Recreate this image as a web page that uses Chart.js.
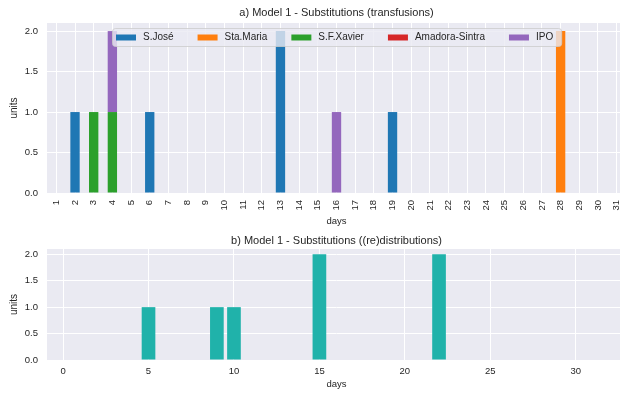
<!DOCTYPE html>
<html>
<head>
<meta charset="utf-8">
<script src="https://cdn.jsdelivr.net/npm/chart.js@4.4.0/dist/chart.umd.min.js"></script>
<style>
  html, body { margin: 0; padding: 0; background: #fff; overflow: hidden; width: 620px; height: 394px; }
  canvas { display: block; }
</style>
</head>
<body>
<canvas id="transfusions" width="626" height="228"></canvas>
<canvas id="redistributions" width="626" height="166"></canvas>
<script>
// days of the month
const days = [1, 2, 3, 4, 5, 6, 7, 8, 9, 10, 11, 12, 13, 14, 15, 16,
              17, 18, 19, 20, 21, 22, 23, 24, 25, 26, 27, 28, 29, 30, 31];

// a) substitutions (transfusions), one array per hospital
const sJose    = [0, 1, 0, 0, 0, 1, 0, 0, 0, 0, 0, 0, 2, 0, 0, 0, 0, 0, 1, 0, 0, 0, 0, 0, 0, 0, 0, 0, 0, 0, 0];
const staMaria = [0, 0, 0, 0, 0, 0, 0, 0, 0, 0, 0, 0, 0, 0, 0, 0, 0, 0, 0, 0, 0, 0, 0, 0, 0, 0, 0, 2, 0, 0, 0];
const sfXavier = [0, 0, 1, 1, 0, 0, 0, 0, 0, 0, 0, 0, 0, 0, 0, 0, 0, 0, 0, 0, 0, 0, 0, 0, 0, 0, 0, 0, 0, 0, 0];
const amadora  = [0, 0, 0, 0, 0, 0, 0, 0, 0, 0, 0, 0, 0, 0, 0, 0, 0, 0, 0, 0, 0, 0, 0, 0, 0, 0, 0, 0, 0, 0, 0];
const ipo      = [0, 0, 0, 1, 0, 0, 0, 0, 0, 0, 0, 0, 0, 0, 0, 1, 0, 0, 0, 0, 0, 0, 0, 0, 0, 0, 0, 0, 0, 0, 0];

// b) substitutions ((re)distributions)
const redistUnits = [0, 0, 0, 0, 1, 0, 0, 0, 1, 1, 0, 0, 0, 0, 2, 0, 0, 0, 0, 0, 0, 2, 0, 0, 0, 0, 0, 0, 0, 0, 0];

const unitTicks = [0, 0.5, 1, 1.5, 2];
const dayTicks = [0, 5, 10, 15, 20, 25, 30];

Chart.defaults.font.family = '"Liberation Sans", Arial, sans-serif';
Chart.defaults.font.size = 9.5;
Chart.defaults.color = '#262626';

const plotBackground = {
  id: 'plotBackground',
  beforeDraw(chart) {
    const { ctx, chartArea: a } = chart;
    ctx.save();
    ctx.fillStyle = '#eaeaf2';
    ctx.fillRect(a.left, a.top, a.right - a.left, a.bottom - a.top);
    ctx.restore();
  }
};

// title centred over the plot area (matplotlib style), not over the canvas
const axesTitle = {
  id: 'axesTitle',
  afterDraw(chart, args, opts) {
    const { ctx, chartArea: a } = chart;
    ctx.save();
    ctx.font = '11px "Liberation Sans", Arial, sans-serif';
    ctx.fillStyle = '#262626';
    ctx.textAlign = 'center';
    ctx.textBaseline = 'middle';
    ctx.fillText(opts.text, (a.left + a.right) / 2, opts.y);
    ctx.restore();
  }
};

// legend drawn inside the plot, over the bars, like matplotlib's 'upper center'
const insideLegend = {
  id: 'insideLegend',
  afterDatasetsDraw(chart) {
    const { ctx, chartArea: a } = chart;
    const sets = chart.data.datasets;
    ctx.save();
    ctx.font = '10px "Liberation Sans", Arial, sans-serif';
    const patchW = 20, patchH = 6, gap = 7, colGap = 24, padL = 4, padR = 8, boxH = 18;
    const widths = sets.map(s => ctx.measureText(s.label).width);
    const inner = sets.length * (patchW + gap) + widths.reduce((p, w) => p + w, 0) + colGap * (sets.length - 1);
    const boxW = inner + padL + padR;
    const x0 = Math.round((a.left + a.right) / 2 - boxW / 2);
    const y0 = Math.round(a.top + 5);
    ctx.beginPath();
    ctx.roundRect(x0 + 0.5, y0 + 0.5, boxW, boxH, 3);
    ctx.fillStyle = 'rgba(234,234,242,0.8)';
    ctx.fill();
    ctx.strokeStyle = 'rgba(204,204,204,0.8)';
    ctx.lineWidth = 1;
    ctx.stroke();
    let x = x0 + padL;
    const cy = y0 + boxH / 2 + 0.5;
    ctx.textBaseline = 'middle';
    sets.forEach((s, i) => {
      ctx.fillStyle = s.backgroundColor;
      ctx.fillRect(x, cy - patchH / 2, patchW, patchH);
      ctx.fillStyle = '#262626';
      ctx.fillText(s.label, x + patchW + gap, cy);
      x += patchW + gap + widths[i] + colGap;
    });
    ctx.restore();
  }
};

const unitAxis = (stacked) => ({
  stacked: stacked,
  min: 0,
  max: 2.1,
  grid: { color: '#ffffff', drawTicks: false },
  border: { display: false },
  afterBuildTicks(s) { s.ticks = unitTicks.map(v => ({ value: v })); },
  ticks: { padding: 9, callback: v => v.toFixed(1) },
  title: { display: true, text: 'units', font: { size: 10 }, padding: { top: 8, bottom: 0 } },
  afterFit(s) { s.width = 47; s.paddingTop = 0; s.paddingBottom = 0; }
});

const hospitalColors = ['#1f77b4', '#ff7f0e', '#2ca02c', '#d62728', '#9467bd'];
const hospitalNames = ['S.José', 'Sta.Maria', 'S.F.Xavier', 'Amadora-Sintra', 'IPO'];
const hospitalData = [sJose, staMaria, sfXavier, amadora, ipo];

new Chart(document.getElementById('transfusions'), {
  type: 'bar',
  data: {
    labels: days,
    datasets: hospitalNames.map((name, i) => ({
      label: name,
      data: hospitalData[i],
      backgroundColor: hospitalColors[i],
      barPercentage: 0.5,
      categoryPercentage: 1
    }))
  },
  options: {
    responsive: false,
    animation: false,
    layout: { padding: { top: 23 } },
    plugins: {
      legend: { display: false },
      tooltip: { enabled: false },
      axesTitle: { text: 'a) Model 1 - Substitutions (transfusions)', y: 13 }
    },
    scales: {
      x: {
        stacked: true,
        offset: true,
        grid: { color: '#ffffff', offset: false, drawTicks: false },
        border: { display: false },
        ticks: { autoSkip: false, minRotation: 90, maxRotation: 90, padding: 7 },
        title: { display: true, text: 'days', padding: { top: 0, bottom: 1 } },
        afterFit(s) { s.height = 35; s.paddingLeft = 0; s.paddingRight = 0; }
      },
      y: unitAxis(true)
    }
  },
  plugins: [plotBackground, insideLegend, axesTitle]
});

new Chart(document.getElementById('redistributions'), {
  type: 'bar',
  data: {
    datasets: [{
      label: 'redistributions',
      data: days.map((d, i) => ({ x: d, y: redistUnits[i] })),
      backgroundColor: '#20b2aa',
      barPercentage: 0.8,
      categoryPercentage: 1
    }]
  },
  options: {
    responsive: false,
    animation: false,
    layout: { padding: { top: 21 } },
    plugins: {
      legend: { display: false },
      tooltip: { enabled: false },
      axesTitle: { text: 'b) Model 1 - Substitutions ((re)distributions)', y: 13 }
    },
    scales: {
      x: {
        type: 'linear',
        min: -0.94,
        max: 32.94,
        offset: false,
        grid: { color: '#ffffff', offset: false, drawTicks: false },
        border: { display: false },
        afterBuildTicks(s) { s.ticks = dayTicks.map(v => ({ value: v })); },
        ticks: { padding: 6, maxRotation: 0 },
        title: { display: true, text: 'days', padding: { top: 0, bottom: 4 } },
        afterFit(s) { s.height = 34; s.paddingLeft = 0; s.paddingRight = 0; }
      },
      y: unitAxis(false)
    }
  },
  plugins: [plotBackground, axesTitle]
});
</script>
</body>
</html>
